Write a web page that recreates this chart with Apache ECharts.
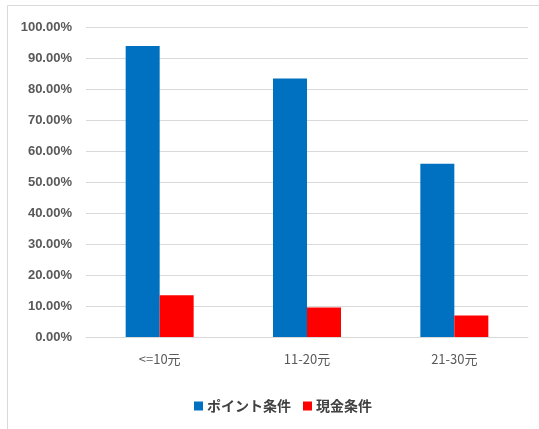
<!DOCTYPE html>
<html><head><meta charset="utf-8">
<script src="https://cdn.jsdelivr.net/npm/echarts@6/dist/echarts.min.js"></script>
<style>html,body{margin:0;padding:0;background:#fff}#c{width:539px;height:429px}</style>
</head><body><div id="c"></div>
<script>
var categories = ['<=10元', '11-20元', '21-30元'];
var seriesNames = ['ポイント条件', '現金条件'];
var pointValues = [93.9, 83.4, 55.9];
var cashValues = [13.5, 9.5, 6.9];

var chart = echarts.init(document.getElementById('c'));
chart.setOption({
  animation: false,
  backgroundColor: '#fff',
  graphic: [{type:'rect', shape:{x:7.5,y:5.5,width:540,height:430}, style:{fill:'none',stroke:'#d9d9d9',lineWidth:1}, silent:true}],
  grid: {left: 86, right: 11, top: 27, bottom: 92},
  legend: {
    top: 394, left: 189, itemWidth: 9, itemHeight: 9, itemGap: 12,
    icon: 'rect',
    textStyle: {fontFamily: '"Noto Sans CJK JP"', fontSize: 14, fontWeight: 'bold', color: '#404040', padding:[0,0,0,-1]},
    data: seriesNames
  },
  xAxis: {
    type: 'category', data: categories,
    axisLine: {lineStyle: {color: '#d9d9d9'}},
    axisTick: {show: false},
    axisLabel: {color: '#595959', fontSize: 13, margin: 16, fontFamily: '"Noto Sans CJK JP"'}
  },
  yAxis: {
    type: 'value', min: 0, max: 100, interval: 10,
    axisLine: {show: false}, axisTick: {show: false},
    splitLine: {lineStyle: {color: '#d9d9d9'}},
    axisLabel: {color: '#595959', fontSize: 13, fontWeight: 'bold', fontFamily: '"Liberation Sans"', margin: 14,
      formatter: function(v){ return v.toFixed(2) + '%'; }}
  },
  series: [
    {name: seriesNames[0], type: 'bar', data: pointValues, barWidth: 34, barGap: '0%', itemStyle: {color: '#0070C0'}},
    {name: seriesNames[1], type: 'bar', data: cashValues, barWidth: 34, barGap: '0%', itemStyle: {color: '#FF0000'}}
  ]
});
</script></body></html>
